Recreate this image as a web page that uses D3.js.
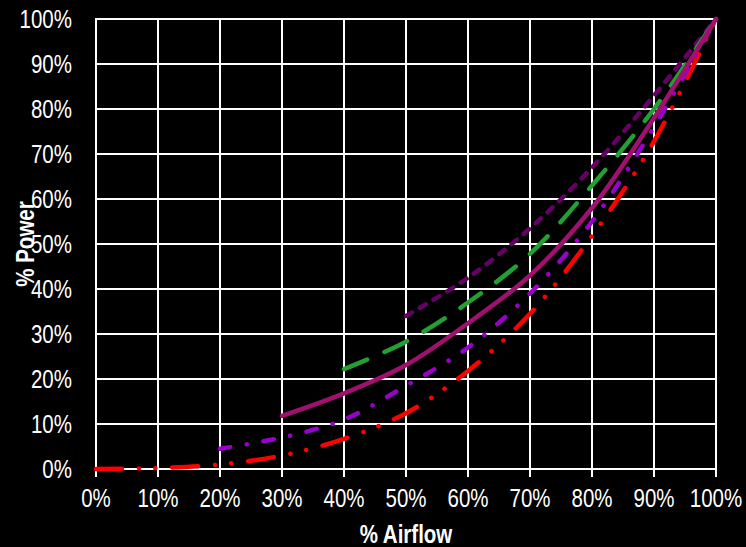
<!DOCTYPE html>
<html>
<head>
<meta charset="utf-8">
<script src="https://cdn.jsdelivr.net/npm/d3@7/dist/d3.min.js"></script>
<style>
  html, body { margin: 0; padding: 0; background: #000; }
  svg { display: block; }
  text { font-family: "Liberation Sans", Arial, sans-serif; fill: #fff; }
</style>
</head>
<body>
<svg id="chart" width="746" height="547"></svg>
<script>
// ---- data ----
const xTicks = [0, 10, 20, 30, 40, 50, 60, 70, 80, 90, 100];
const yTicks = [0, 10, 20, 30, 40, 50, 60, 70, 80, 90, 100];

const redX = [0, 10, 20, 30, 40, 50, 60, 70, 80, 90, 100];
const redY = [0, 0.2, 1, 3, 6.7, 12.4, 21.8, 34.5, 51.8, 72.8, 100];

const purpleX = [20, 30, 40, 50, 60, 70, 80, 90, 100];
const purpleY = [4.5, 7, 11, 18.5, 27, 39, 55, 76, 100];

const magentaX = [30, 40, 50, 60, 70, 80, 90, 100];
const magentaY = [11.8, 16.8, 23.1, 32.4, 43, 58, 78, 100];

const greenX = [40, 50, 60, 70, 80, 90, 100];
const greenY = [22.2, 28.3, 37, 47.8, 63, 80, 100];

const darkX = [50, 60, 70, 80, 90, 100];
const darkY = [34, 42.5, 53.5, 67, 83, 100];

const xTitle = "% Airflow";
const yTitle = "% Power";

// ---- chart ----
const svg = d3.select("#chart");
const x = d3.scaleLinear().domain([0, 100]).range([96, 716]);
const y = d3.scaleLinear().domain([0, 100]).range([469, 19]);
const NARROW = 0.82;

svg.append("rect").attr("width", 746).attr("height", 547).attr("fill", "#000");

// grid
const g = svg.append("g");
g.selectAll("line.v").data(xTicks).join("line")
  .attr("x1", d => x(d)).attr("x2", d => x(d))
  .attr("y1", y(100)).attr("y2", y(0) + 8)
  .attr("stroke", "#fff").attr("stroke-width", 2);
g.selectAll("line.h").data(yTicks).join("line")
  .attr("x1", x(0) - 1).attr("x2", x(100) + 1)
  .attr("y1", d => y(d)).attr("y2", d => y(d))
  .attr("stroke", "#fff").attr("stroke-width", 2);

// tick labels (narrow font emulated by horizontal scaling)
svg.append("g").selectAll("text").data(xTicks).join("text")
  .attr("transform", d => `translate(${x(d)},507) scale(${NARROW},1)`)
  .attr("text-anchor", "middle").attr("font-size", 25)
  .text(d => d + "%");
svg.append("g").selectAll("text").data(yTicks).join("text")
  .attr("transform", d => `translate(72,${y(d) + 9}) scale(${NARROW},1)`)
  .attr("text-anchor", "end").attr("font-size", 25)
  .text(d => d + "%");

// titles
svg.append("text")
  .attr("transform", `translate(406,543) scale(${NARROW},1)`)
  .attr("text-anchor", "middle").attr("font-size", 25).attr("font-weight", "bold")
  .text(xTitle);
svg.append("text")
  .attr("transform", `translate(34,244) rotate(-90) scale(${NARROW},1)`)
  .attr("text-anchor", "middle").attr("font-size", 25).attr("font-weight", "bold")
  .text(yTitle);

// series
const series = [
  { xs: redX, ys: redY, color: "#ff0000", dash: "26 17 0.1 16 0.1 17" },
  { xs: purpleX, ys: purpleY, color: "#9900cc", dash: "10.5 16.7 0.1 16.8" },
  { xs: darkX, ys: darkY, color: "#660066", dash: "7 9" },
  { xs: greenX, ys: greenY, color: "#22a033", dash: "25 19" },
  { xs: magentaX, ys: magentaY, color: "#a0106e", dash: null }
];

const line = d3.line()
  .x(d => x(d[0])).y(d => y(d[1]))
  .curve(d3.curveCatmullRom.alpha(0.5));

series.forEach(s => {
  const pts = s.xs.map((v, i) => [v, s.ys[i]]);
  svg.append("path")
    .attr("d", line(pts))
    .attr("fill", "none")
    .attr("stroke", s.color)
    .attr("stroke-width", 4.5)
    .attr("stroke-linecap", "round")
    .attr("stroke-linejoin", "round")
    .attr("stroke-dasharray", s.dash);
});
</script>
</body>
</html>
